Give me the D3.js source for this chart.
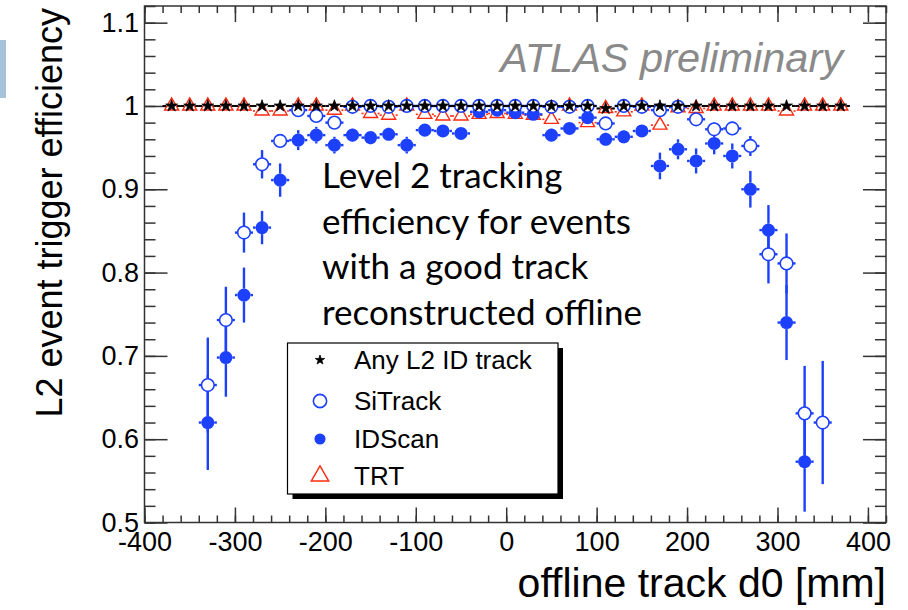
<!DOCTYPE html>
<html>
<head>
<meta charset="utf-8">
<script src="https://cdn.jsdelivr.net/npm/d3@7"></script>
<style>
  body { margin: 0; background: #fff; }
  svg { display: block; }
  text { font-family: "Liberation Sans", Arial, Helvetica, sans-serif; }
</style>
</head>
<body>
<svg id="chart" width="908" height="610"></svg>
<script>
// 20 mm bins of offline track d0, bin centres in mm
const binCentres = [-370, -350, -330, -310, -290, -270, -250, -230, -210, -190,
                    -170, -150, -130, -110, -90, -70, -50, -30, -10, 10,
                    30, 50, 70, 90, 110, 130, 150, 170, 190, 210,
                    230, 250, 270, 290, 310, 330, 350, 370];
const binHalfWidth = 10;

// L2 event trigger efficiency per bin (null = no entry drawn)
const anyTrack = [1.0, 1.0, 1.0, 1.0, 1.0, 1.0, 1.0, 1.0, 1.0, 1.0,
                  1.0, 1.0, 1.0, 1.0, 1.0, 1.0, 1.0, 1.0, 1.0, 1.0,
                  1.0, 1.0, 1.0, 1.0, 0.997, 1.0, 1.0, 1.0, 1.0, 1.0,
                  1.0, 1.0, 1.0, 1.0, 1.0, 1.0, 1.0, 1.0];
const anyTrackErr = [0.001, 0.001, 0.001, 0.001, 0.001, 0.001, 0.001, 0.001, 0.001, 0.001,
                     0.001, 0.001, 0.001, 0.001, 0.001, 0.001, 0.001, 0.001, 0.001, 0.001,
                     0.001, 0.001, 0.001, 0.001, 0.002, 0.001, 0.001, 0.001, 0.001, 0.001,
                     0.001, 0.001, 0.001, 0.001, 0.001, 0.001, 0.001, 0.001];

const siTrack = [null, null, 0.665, 0.743, 0.848, 0.930, 0.958, 0.995, 0.988, 0.980,
                 0.999, 1.0, 0.999, 1.0, 1.0, 1.0, 1.0, 1.0, 1.0, 1.0,
                 1.0, 0.999, 0.999, 1.0, 0.979, 1.0, 0.999, 0.995, 0.999, 0.984,
                 0.972, 0.973, 0.952, 0.822, 0.811, 0.631, 0.620, null];
const siTrackErr = [0, 0, 0.057, 0.040, 0.024, 0.017, 0.008, 0.004, 0.005, 0.006,
                    0.002, 0.002, 0.002, 0.002, 0.002, 0.002, 0.002, 0.002, 0.002, 0.002,
                    0.002, 0.002, 0.002, 0.002, 0.006, 0.002, 0.002, 0.004, 0.002, 0.006,
                    0.008, 0.008, 0.012, 0.035, 0.036, 0.057, 0.074, 0];

const idScan = [null, null, 0.620, 0.698, 0.773, 0.854, 0.911, 0.959, 0.965, 0.953,
                0.965, 0.962, 0.966, 0.953, 0.971, 0.970, 0.967, 0.993, 0.995, 0.992,
                0.990, 0.965, 0.973, 0.986, 0.960, 0.963, 0.970, 0.928, 0.948, 0.934,
                0.955, 0.940, 0.900, 0.851, 0.740, 0.573, null, null];
const idScanErr = [0, 0, 0.057, 0.047, 0.033, 0.020, 0.020, 0.012, 0.010, 0.010,
                   0.008, 0.008, 0.008, 0.010, 0.007, 0.007, 0.007, 0.004, 0.004, 0.004,
                   0.004, 0.008, 0.007, 0.005, 0.008, 0.008, 0.007, 0.016, 0.012, 0.015,
                   0.013, 0.015, 0.022, 0.030, 0.045, 0.060, 0, 0];

const trt = [1.0, 1.0, 1.0, 1.0, 1.0, 0.994, 0.994, 1.0, 1.0, 0.995,
             1.0, 0.991, 0.989, 1.0, 0.990, 0.988, 0.988, 0.990, 0.991, 0.990,
             0.989, 0.984, 1.0, 0.980, 0.997, 0.993, 1.0, 0.977, 0.998, 0.997,
             1.0, 1.0, 1.0, 1.0, 0.994, 1.0, 1.0, 1.0];
const trtErr = [0.001, 0.001, 0.001, 0.001, 0.001, 0.003, 0.003, 0.001, 0.001, 0.003,
                0.001, 0.003, 0.003, 0.001, 0.003, 0.003, 0.003, 0.003, 0.003, 0.003,
                0.003, 0.004, 0.001, 0.004, 0.002, 0.003, 0.001, 0.006, 0.002, 0.002,
                0.001, 0.001, 0.001, 0.001, 0.003, 0.001, 0.001, 0.001];

const seriesNames = ["Any L2 ID track", "SiTrack", "IDScan", "TRT"];

// axis ticks and titles
const xTickLabels = [-400, -300, -200, -100, 0, 100, 200, 300, 400];
const yTickLabels = [0.5, 0.6, 0.7, 0.8, 0.9, 1, 1.1];
const xTitle = "offline track d0 [mm]";
const yTitle = "L2 event trigger efficiency";
const experimentLabel = "ATLAS preliminary";
const noteLines = ["Level 2 tracking", "efficiency for events",
                   "with a good track", "reconstructed offline"];

// ---------------------------------------------------------------
const svg = d3.select("#chart");
const frame = { left: 144.5, right: 886, top: 6, bottom: 522.5 };
const x = d3.scaleLinear().domain([-400, 420]).range([frame.left, frame.right]);
const y = d3.scaleLinear().domain([0.5, 1.12]).range([frame.bottom, frame.top]);

const BLUE = "#1c40fc";
const RED = "#ff2a10";
const AXIS = "#333";

// slide accent strip at the left edge
svg.append("rect").attr("x", 0).attr("y", 40).attr("width", 6).attr("height", 58)
  .attr("fill", "#a7c3da");

// frame
svg.append("rect")
  .attr("x", frame.left).attr("y", frame.top)
  .attr("width", frame.right - frame.left).attr("height", frame.bottom - frame.top)
  .attr("fill", "none").attr("stroke", AXIS).attr("stroke-width", 1.5);

const xMinor = d3.range(-400, 421, 20);
const yMinor = d3.range(0.5, 1.121, 0.02).map(v => +v.toFixed(2));

function styleAxis(g) {
  g.select(".domain").remove();
  g.selectAll("line").attr("stroke", AXIS).attr("stroke-width", 1.5);
  g.selectAll("text").attr("fill", "#000").style("font-size", "27px")
    .style("font-family", '"Liberation Sans", Arial, sans-serif');
}

// bottom axis: labels + major/minor ticks pointing inward
svg.append("g").attr("transform", `translate(0,${frame.bottom})`)
  .call(d3.axisBottom(x).tickValues(xMinor).tickSize(-7).tickSizeOuter(0).tickFormat(""))
  .call(styleAxis);
svg.append("g").attr("transform", `translate(0,${frame.bottom})`)
  .call(d3.axisBottom(x).tickValues(xTickLabels).tickSize(-15).tickSizeOuter(0)
        .tickPadding(9).tickFormat(d => String(d)))
  .call(styleAxis);
// top axis
svg.append("g").attr("transform", `translate(0,${frame.top})`)
  .call(d3.axisTop(x).tickValues(xMinor).tickSize(-7).tickSizeOuter(0).tickFormat(""))
  .call(styleAxis);
svg.append("g").attr("transform", `translate(0,${frame.top})`)
  .call(d3.axisTop(x).tickValues(xTickLabels).tickSize(-16).tickSizeOuter(0).tickFormat(""))
  .call(styleAxis);
// left axis
svg.append("g").attr("transform", `translate(${frame.left},0)`)
  .call(d3.axisLeft(y).tickValues(yMinor).tickSize(-11).tickSizeOuter(0).tickFormat(""))
  .call(styleAxis);
svg.append("g").attr("transform", `translate(${frame.left},0)`)
  .call(d3.axisLeft(y).tickValues(yTickLabels).tickSize(-23).tickSizeOuter(0)
        .tickPadding(5.5).tickFormat(d => String(d)))
  .call(styleAxis);
// right axis
svg.append("g").attr("transform", `translate(${frame.right},0)`)
  .call(d3.axisRight(y).tickValues(yMinor).tickSize(-11).tickSizeOuter(0).tickFormat(""))
  .call(styleAxis);
svg.append("g").attr("transform", `translate(${frame.right},0)`)
  .call(d3.axisRight(y).tickValues(yTickLabels).tickSize(-23).tickSizeOuter(0).tickFormat(""))
  .call(styleAxis);

// axis titles
svg.append("text").text(xTitle)
  .attr("x", 886).attr("y", 597).attr("text-anchor", "end")
  .style("font-size", "41px").attr("fill", "#000");
svg.append("text").text(yTitle)
  .attr("transform", "translate(62,8) rotate(-90)")
  .attr("text-anchor", "end")
  .style("font-size", "36px").attr("fill", "#000");

// experiment label
svg.append("text").text(experimentLabel)
  .attr("x", 843).attr("y", 72).attr("text-anchor", "end")
  .style("font-size", "41.5px").style("font-style", "italic").attr("fill", "#8a8a8a");

// ---------------------------------------------------------------
// marker shapes
const markers = {
  star:     { path: d3.symbol().type(d3.symbolStar).size(44)(), half: 5.5, fill: "#000", stroke: "#000", sw: 0.8 },
  circleO:  { path: d3.symbol().type(d3.symbolCircle).size(125)(), half: 6.3, fill: "#fff", stroke: BLUE, sw: 1.6 },
  circleF:  { path: d3.symbol().type(d3.symbolCircle).size(135)(), half: 6.5, fill: BLUE, stroke: "none", sw: 0 },
  triangle: { path: d3.symbol().type(d3.symbolTriangle).size(85)(), half: 7, fill: "none", stroke: RED, sw: 1.4 }
};

const series = [
  { name: seriesNames[3], values: trt,      errs: trtErr,      marker: markers.triangle, color: RED,    lw: 1.6 },
  { name: seriesNames[2], values: idScan,   errs: idScanErr,   marker: markers.circleF,  color: BLUE,   lw: 2.4 },
  { name: seriesNames[1], values: siTrack,  errs: siTrackErr,  marker: markers.circleO,  color: BLUE,   lw: 2.4 },
  { name: seriesNames[0], values: anyTrack, errs: anyTrackErr, marker: markers.star,     color: "#000", lw: 2.0 }
];

series.forEach(s => {
  const pts = binCentres.map((c, i) => ({ c, v: s.values[i], e: s.errs[i] }))
    .filter(d => d.v !== null);
  const g = svg.append("g");
  const m = s.marker.half;
  pts.forEach(d => {
    const cx = x(d.c), cy = y(d.v);
    const x0 = x(d.c - binHalfWidth), x1 = x(d.c + binHalfWidth);
    const yHi = y(d.v + d.e), yLo = y(d.v - d.e);
    const seg = [];
    if (cx - m > x0) seg.push([x0, cy, cx - m, cy]);
    if (x1 > cx + m) seg.push([cx + m, cy, x1, cy]);
    if (cy - m > yHi) seg.push([cx, yHi, cx, cy - m]);
    if (yLo > cy + m) seg.push([cx, cy + m, cx, yLo]);
    seg.forEach(l => g.append("line")
      .attr("x1", l[0]).attr("y1", l[1]).attr("x2", l[2]).attr("y2", l[3])
      .attr("stroke", s.color).attr("stroke-width", s.lw));
  });
  g.selectAll("path.mk").data(pts).join("path")
    .attr("class", "mk")
    .attr("d", s.marker.path)
    .attr("transform", d => `translate(${x(d.c)},${y(d.v)})`)
    .attr("fill", s.marker.fill)
    .attr("stroke", s.marker.stroke)
    .attr("stroke-width", s.marker.sw);
});

// ---------------------------------------------------------------
// annotation
const note = svg.append("text")
  .attr("x", 322).attr("y", 188)
  .style("font-family", "Lato, 'Open Sans', sans-serif")
  .style("font-size", "35px").attr("fill", "#000");
noteLines.forEach((t, i) => note.append("tspan")
  .attr("x", 322).attr("y", 188 + i * 45.5).text(t));

// legend
const leg = { x: 287.5, y: 343, w: 270.5, h: 151 };
svg.append("rect").attr("x", leg.x + 5).attr("y", leg.y + 5)
  .attr("width", leg.w).attr("height", leg.h).attr("fill", "#000");
svg.append("rect").attr("x", leg.x).attr("y", leg.y)
  .attr("width", leg.w).attr("height", leg.h)
  .attr("fill", "#fff").attr("stroke", "#000").attr("stroke-width", 1.2);

const legendMarkers = [
  { m: markers.star, scale: 0.8 },
  { m: markers.circleO, scale: 1.05 },
  { m: markers.circleF, scale: 0.85 },
  { m: markers.triangle, scale: 1.25 }
];
const legendRows = [360, 401, 439, 476];
seriesNames.forEach((name, i) => {
  const lm = legendMarkers[i];
  svg.append("path").attr("d", lm.m.path)
    .attr("transform", `translate(320,${legendRows[i]}) scale(${lm.scale})`)
    .attr("fill", lm.m.fill).attr("stroke", lm.m.stroke)
    .attr("stroke-width", lm.m.sw / lm.scale);
  svg.append("text").text(name)
    .attr("x", 354).attr("y", legendRows[i] + 9)
    .style("font-size", "26px").attr("fill", "#000");
});
</script>
</body>
</html>
